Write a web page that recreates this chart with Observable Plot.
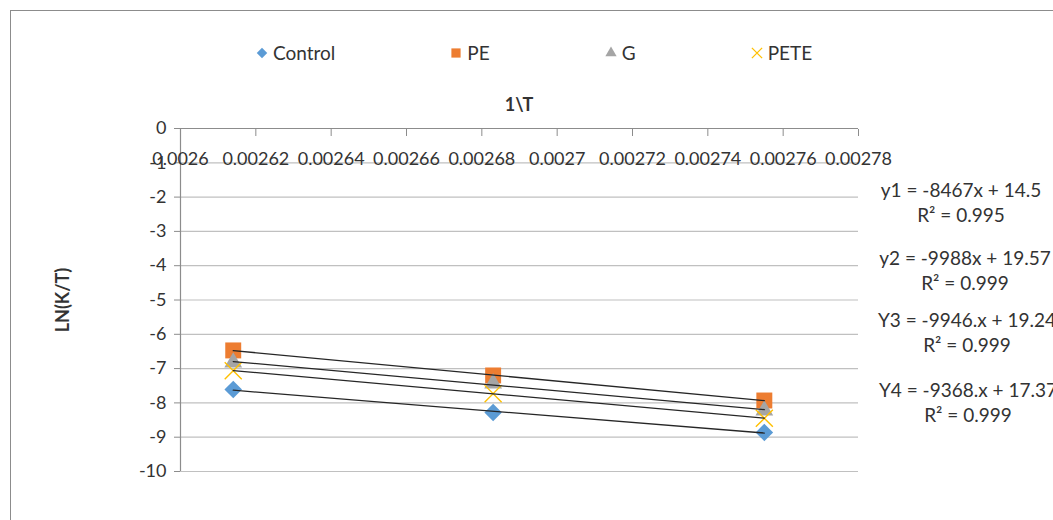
<!DOCTYPE html>
<html><head><meta charset="utf-8">
<script src="https://cdn.jsdelivr.net/npm/d3@7"></script>
<script src="https://cdn.jsdelivr.net/npm/@observablehq/plot@0.6"></script>
<style>
html,body{margin:0;padding:0;background:#fff;overflow:hidden;width:1053px;height:520px;}
body{font-family:Lato,"Open Sans",sans-serif;color:#333;position:relative;}
#frame{position:absolute;left:10px;top:10px;width:1200px;height:700px;border:1px solid #8c8c8c;box-sizing:border-box;}
#chart{position:absolute;left:0;top:0;}
#legend{position:absolute;left:255px;top:41px;display:flex;gap:114px;font-size:19px;line-height:24px;}
#legend .item{display:flex;align-items:center;gap:4px;}
#legend svg{display:block;}
#xtitle{position:absolute;left:519px;top:104px;transform:translate(-50%,-50%);font-weight:bold;font-size:18px;white-space:nowrap;}
#ytitle{position:absolute;left:62px;top:300px;transform:translate(-50%,-50%) rotate(-90deg);font-weight:bold;font-size:18px;white-space:nowrap;}
.eq{position:absolute;width:220px;text-align:center;font-size:19px;line-height:25px;white-space:nowrap;}
</style>
</head><body>
<div id="frame"></div>
<div id="chart"></div>
<div id="legend"></div>
<div id="xtitle"></div>
<div id="ytitle"></div>
<script>
// ---- data ----
const invT = [0.002614, 0.002683, 0.002755];
const control = [-7.61, -8.28, -8.86];
const pe = [-6.47, -7.20, -7.93];
const g = [-6.82, -7.43, -8.22];
const pete = [-7.06, -7.73, -8.45];
const seriesNames = ["Control", "PE", "G", "PETE"];
const seriesValues = [control, pe, g, pete];
const seriesColors = ["#5B9BD5", "#ED7D31", "#A5A5A5", "#FFC000"];
const seriesSymbols = ["diamond2", "square", "triangle", "times"];
const xTicks = [0.0026, 0.00262, 0.00264, 0.00266, 0.00268, 0.0027, 0.00272, 0.00274, 0.00276, 0.00278];
const yTicks = [0, -1, -2, -3, -4, -5, -6, -7, -8, -9, -10];
const xTitle = "1\\T";
const yTitle = "LN(K/T)";
const equationLines = [
  ["y1 = -8467x + 14.5", "R² = 0.995"],
  ["y2 = -9988x + 19.57", "R² = 0.999"],
  ["Y3 = -9946.x + 19.24", "R² = 0.999"],
  ["Y4 = -9368.x + 17.37", "R² = 0.999"]
];

// ---- layout/style ----
const markerR = [7.9, 9, 6.6, 7.8];
const eqPos = [[961, 177], [965, 245], [967, 307], [968, 377]];
const legendSize = [70, 85, 55, 70];
const d3Sym = {diamond2: d3.symbolDiamond2, square: d3.symbolSquare, triangle: d3.symbolTriangle, times: d3.symbolTimes};

const rows = seriesNames.map((s, i) => invT.map((x, j) => ({series: s, x, y: seriesValues[i][j]})));

const marks = [
  Plot.gridY(yTicks.filter(d => d < 0), {stroke: "#c0c0c0", strokeOpacity: 1, strokeWidth: 1.2}),
  Plot.ruleY([0], {stroke: "#8c8c8c", strokeWidth: 1.2}),
  Plot.ruleX([xTicks[0]], {stroke: "#8c8c8c", strokeWidth: 1.2}),
  Plot.axisY({ticks: yTicks, tickSize: 6, tickPadding: 8, label: null, stroke: "#8c8c8c", fill: "#333", fontSize: 18, tickFormat: d => String(d)}),
  Plot.axisX({anchor: "top", ticks: xTicks, tickSize: -7, tickPadding: -29, lineAnchor: "bottom", label: null, stroke: "#8c8c8c", fill: "#333", fontSize: 18, tickFormat: d => String(+d.toFixed(5))})
];
seriesNames.forEach((s, i) => {
  const sym = seriesSymbols[i];
  if (sym === "times") {
    marks.push(Plot.dot(rows[i], {x: "x", y: "y", symbol: sym, r: markerR[i], stroke: seriesColors[i], strokeWidth: 1.4, fill: "none"}));
  } else {
    marks.push(Plot.dot(rows[i], {x: "x", y: "y", symbol: sym, r: markerR[i], fill: seriesColors[i], stroke: "none"}));
  }
});
seriesNames.forEach((s, i) => {
  marks.push(Plot.linearRegressionY(rows[i], {x: "x", y: "y", ci: 0, stroke: "#262626", strokeWidth: 1.3}));
});

const chart = Plot.plot({
  width: 1053, height: 520,
  marginLeft: 180, marginRight: 195, marginTop: 128, marginBottom: 49,
  style: {fontFamily: "Lato, 'Open Sans', sans-serif", fontSize: "18px", color: "#333", background: "transparent", overflow: "visible"},
  x: {domain: [xTicks[0], xTicks[xTicks.length - 1]]},
  y: {domain: [yTicks[yTicks.length - 1], yTicks[0]]},
  marks
});
document.getElementById("chart").appendChild(chart);

// legend
const legend = d3.select("#legend");
seriesNames.forEach((s, i) => {
  const item = legend.append("div").attr("class", "item");
  const svg = item.append("svg").attr("width", 14).attr("height", 14);
  const p = svg.append("path").attr("transform", "translate(7,7)")
    .attr("d", d3.symbol(d3Sym[seriesSymbols[i]], legendSize[i])());
  if (seriesSymbols[i] === "times") p.attr("fill", "none").attr("stroke", seriesColors[i]).attr("stroke-width", 1.3);
  else p.attr("fill", seriesColors[i]);
  item.append("span").text(s);
});

document.getElementById("xtitle").textContent = xTitle;
document.getElementById("ytitle").textContent = yTitle;

equationLines.forEach((lines, i) => {
  const div = document.createElement("div");
  div.className = "eq";
  div.style.left = (eqPos[i][0] - 110) + "px";
  div.style.top = eqPos[i][1] + "px";
  lines.forEach(t => { const l = document.createElement("div"); l.textContent = t; div.appendChild(l); });
  document.body.appendChild(div);
});
</script>
</body></html>
